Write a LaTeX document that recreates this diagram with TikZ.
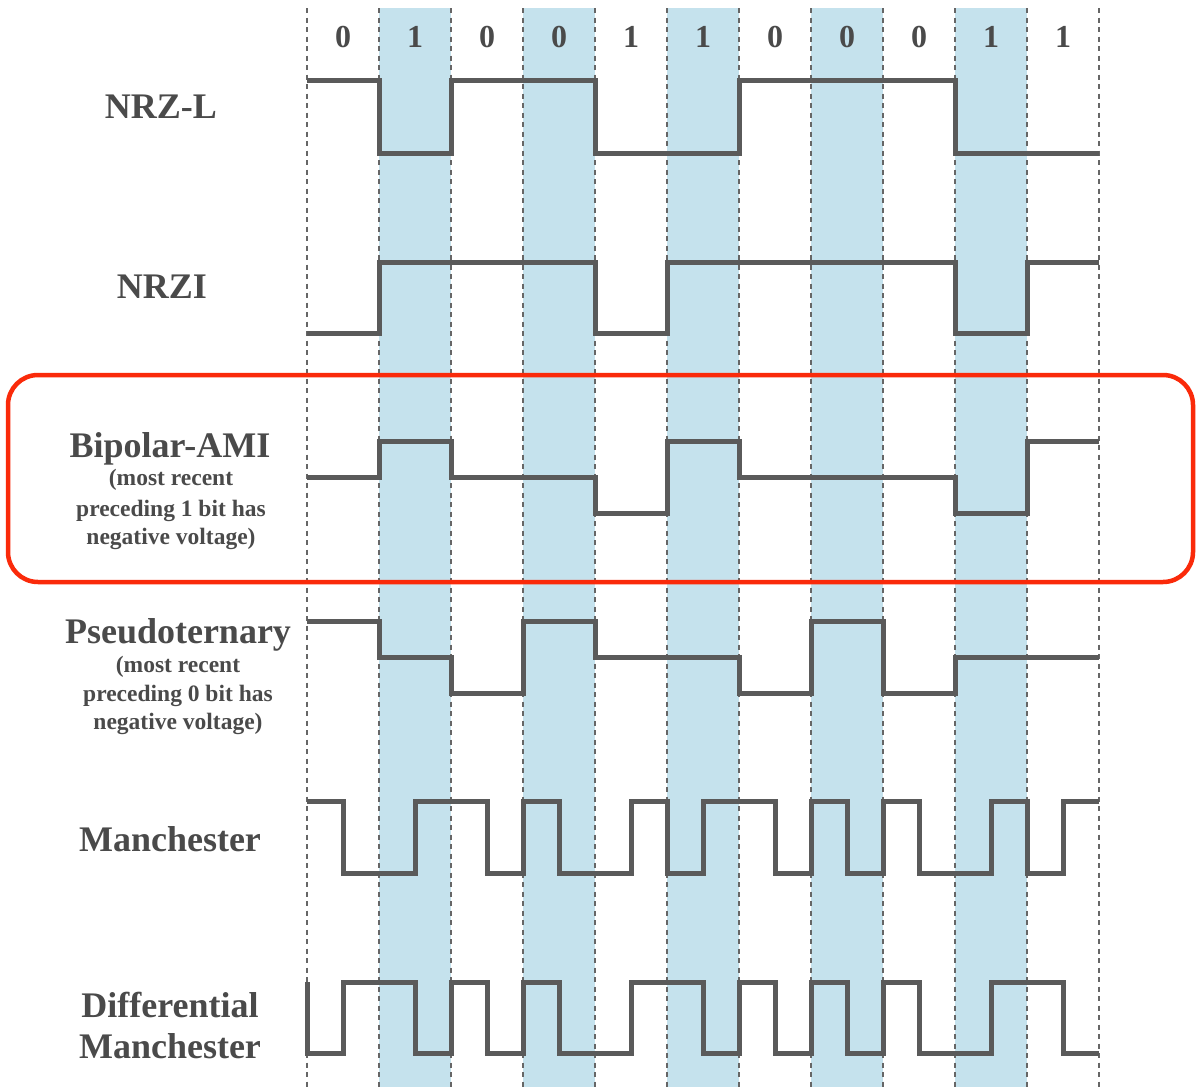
\documentclass[tikz,border=0pt]{standalone}
\usepackage{fontspec}
\setmainfont{Liberation Serif}
\definecolor{sigc}{HTML}{5A5A5A}
\definecolor{txtc}{HTML}{4A4A4A}
\definecolor{shadec}{HTML}{C5E2ED}
\definecolor{gridc}{HTML}{666666}
\definecolor{boxc}{HTML}{FA2A0A}
\tikzset{
  sig/.style={draw=sigc, line width=5pt, line join=miter},
  gridline/.style={draw=gridc, line width=1.6pt, dash pattern=on 5pt off 4.5pt},
  shadecol/.style={fill=shadec, draw=none},
  lbl/.style={text=txtc, font=\fontsize{36}{40}\selectfont\bfseries, anchor=base, inner sep=0pt},
  sublbl/.style={text=txtc, font=\fontsize{23.5}{26}\selectfont\bfseries, anchor=base, inner sep=0pt},
  bitlbl/.style={text=txtc, font=\fontsize{32}{34}\selectfont\bfseries, anchor=base, inner sep=0pt},
  hibox/.style={draw=boxc, line width=4.5pt, rounded corners=30pt}
}
\begin{document}
\begin{tikzpicture}[x=1pt,y=-1pt]
\useasboundingbox (0,0) rectangle (1199,1087);
\fill[white] (0,0) rectangle (1199,1087);
% shaded columns
\foreach \i in {1,3,5,7,9} {
  \path[shadecol] ({307+72*\i},8) rectangle ({379+72*\i},1087);
}
% dashed bit boundaries
\foreach \i in {0,...,11} {
  \draw[gridline] ({307+72*\i},8) -- ({307+72*\i},1087);
}
% bit values
\foreach \b [count=\k from 0] in {0,1,0,0,1,1,0,0,0,1,1} {
  \node[bitlbl] (bit\k) at ({343+72*\k},47) {\b};
}
% highlight box
\draw[hibox] (8,375) rectangle (1193,582);
% labels
\node[lbl] (nrzl) at (161,118) {NRZ-L};
\node[lbl] (nrzi) at (162,298) {NRZI};
\node[lbl] (ami) at (170,457) {Bipolar-AMI};
\node[sublbl] (ami1) at (171,485) {(most recent};
\node[sublbl] (ami2) at (171,516) {preceding 1 bit has};
\node[sublbl] (ami3) at (171,544) {negative voltage)};
\node[lbl] (pst) at (178,643) {Pseudoternary};
\node[sublbl] (pst1) at (178,672) {(most recent};
\node[sublbl] (pst2) at (178,701) {preceding 0 bit has};
\node[sublbl] (pst3) at (178,729) {negative voltage)};
\node[lbl] (man) at (170,851) {Manchester};
\node[lbl] (dman1) at (170,1017) {Differential};
\node[lbl] (dman2) at (170,1058) {Manchester};
% NRZ-L
\draw[sig] (307,80)--(379,80)--(379,153)--(451,153)--(451,80)--(595,80)--(595,153)--(739,153)--(739,80)--(955,80)--(955,153)--(1099,153);
% NRZI
\draw[sig] (307,333)--(379,333)--(379,262)--(595,262)--(595,333)--(667,333)--(667,262)--(955,262)--(955,333)--(1027,333)--(1027,262)--(1099,262);
% Bipolar-AMI
\draw[sig] (307,477)--(379,477)--(379,441)--(451,441)--(451,477)--(595,477)--(595,513)--(667,513)--(667,441)--(739,441)--(739,477)--(955,477)--(955,513)--(1027,513)--(1027,441)--(1099,441);
% Pseudoternary
\draw[sig] (307,621)--(379,621)--(379,657)--(451,657)--(451,693)--(523,693)--(523,621)--(595,621)--(595,657)--(739,657)--(739,693)--(811,693)--(811,621)--(883,621)--(883,693)--(955,693)--(955,657)--(1099,657);
% Manchester
\draw[sig] (307,801)--(343,801)--(343,873)--(415,873)--(415,801)--(487,801)--(487,873)--(523,873)--(523,801)--(559,801)--(559,873)--(631,873)--(631,801)--(667,801)--(667,873)--(703,873)--(703,801)--(775,801)--(775,873)--(811,873)--(811,801)--(847,801)--(847,873)--(883,873)--(883,801)--(919,801)--(919,873)--(991,873)--(991,801)--(1027,801)--(1027,873)--(1063,873)--(1063,801)--(1099,801);
% Differential Manchester
\draw[sig] (307,982)--(307,1053)--(343,1053)--(343,982)--(415,982)--(415,1053)--(451,1053)--(451,982)--(487,982)--(487,1053)--(523,1053)--(523,982)--(559,982)--(559,1053)--(631,1053)--(631,982)--(703,982)--(703,1053)--(739,1053)--(739,982)--(775,982)--(775,1053)--(811,1053)--(811,982)--(847,982)--(847,1053)--(883,1053)--(883,982)--(919,982)--(919,1053)--(991,1053)--(991,982)--(1063,982)--(1063,1053)--(1099,1053);
\end{tikzpicture}
\end{document}
